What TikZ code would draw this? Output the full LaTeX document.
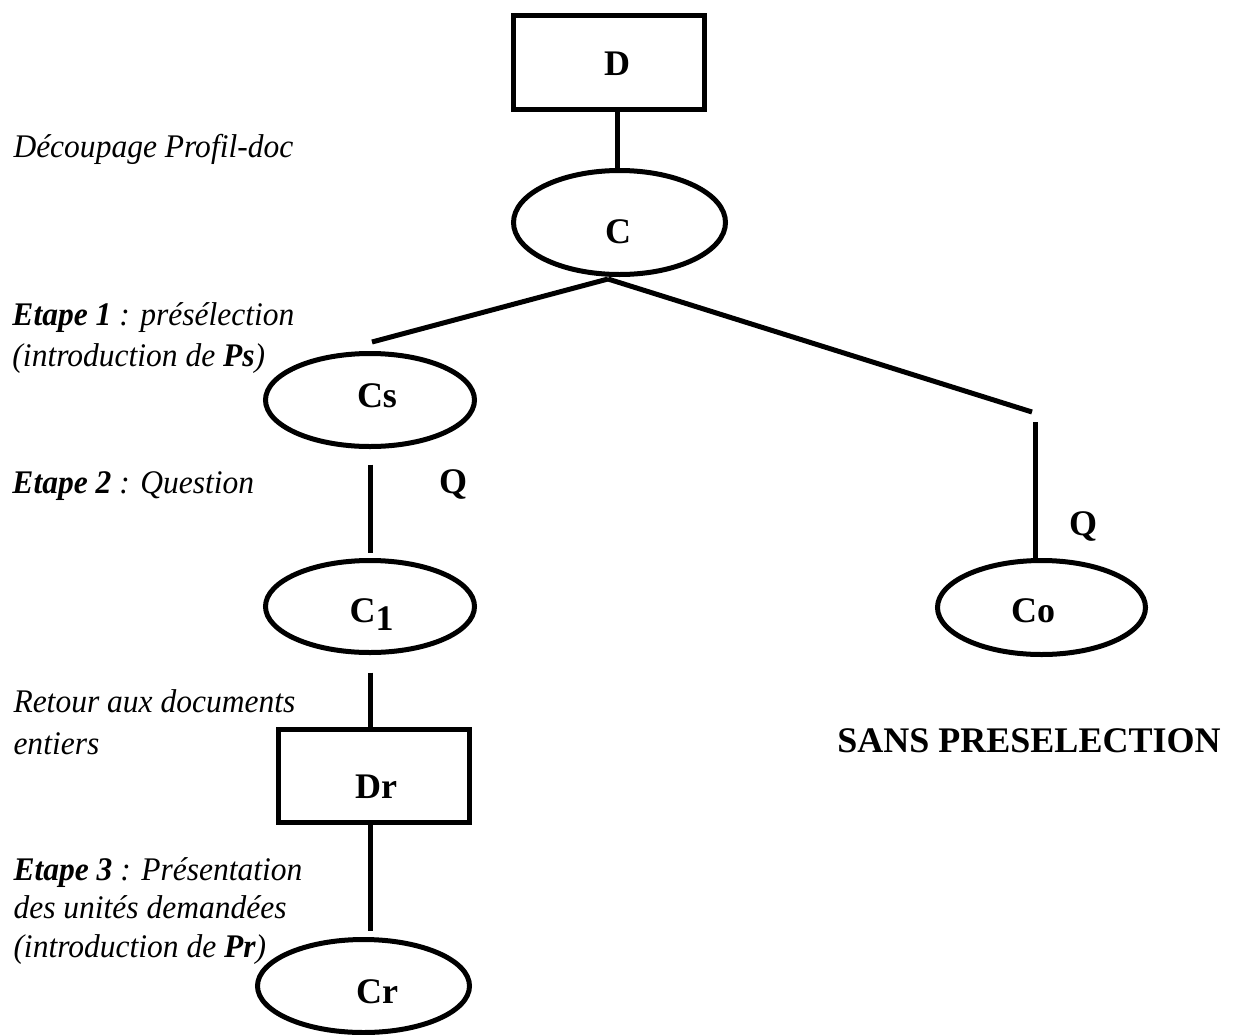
\documentclass[tikz,border=0pt]{standalone}
\usepackage{fontspec}
\setmainfont{Liberation Serif}
\newfontfamily\notefont[FakeStretch=0.955]{Liberation Serif}
\usetikzlibrary{shapes.geometric}
\begin{document}
\begin{tikzpicture}[x=1pt, y=-1pt,
  every path/.style={line width=5pt},
  docbox/.style={draw, rectangle, inner sep=0pt, minimum width=191pt, minimum height=94pt},
  cls/.style={draw, ellipse, inner sep=0pt, minimum width=#1, minimum height=93pt},
  cls/.default=209pt,
  tag/.style={font=\fontsize{36}{42}\selectfont\bfseries, inner sep=0pt, anchor=base},
  note/.style={font=\notefont\fontsize{33}{40}\selectfont\itshape, inner sep=0pt, anchor=base west}]

% page
\fill[white] (0,0) rectangle (1234,1034);
\useasboundingbox (0,0) rectangle (1234,1034);

% boxes and ellipses
\node[docbox] (D) at (609,62) {};
\node[cls={212pt}, minimum height=104pt] (C) at (619.5,222.5) {};
\node[cls] (Cs) at (370,400) {};
\node[cls, minimum height=92pt] (C1) at (370,606.5) {};
\node[docbox, minimum height=93pt] (Dr) at (374,776) {};
\node[cls={212pt}] (Cr) at (363.5,986) {};
\node[cls={208pt}, minimum height=94pt] (Co) at (1041.5,607.5) {};

% labels inside the shapes
\node[tag] (Dlab) at (617,75) {D};
\node[tag] (Clab) at (618,243) {C};
\node[tag] (Cslab) at (377,407) {Cs};
\node[tag, anchor=base west] (C1lab) at (347,622) {C\raisebox{-8pt}{1}};
\node[tag] (Drlab) at (376,798) {Dr};
\node[tag] (Crlab) at (377,1003) {Cr};
\node[tag] (Colab) at (1033,622) {Co};

% question labels and heading
\node[tag] (Qleft) at (453,493) {Q};
\node[tag] (Qright) at (1083,535) {Q};
\node[tag] (sans) at (1029,752) {SANS PRESELECTION};

% connectors
\coordinate (fork) at (608,279);
\coordinate (csIn) at (372,342);
\coordinate (coIn) at (1032,412);
\coordinate (coTop) at (1035,422);
\draw (Dlab |- D.south) -- (Dlab |- C.north);
\draw (fork) -- (csIn);
\draw (fork) -- (coIn);
\draw (coTop) -- (coTop |- Co.north);
\draw[shorten <=15.5pt, shorten >=5.5pt] (Cs.south) -- (C1.north);
\draw[shorten <=17.5pt] (C1.south) -- (C1.south |- Dr.north);
\draw[shorten >=6.5pt] (C1.south |- Dr.south) -- (C1.south |- Cr.north);

% step descriptions
\node[note] (n1) at (11,157) {Découpage Profil-doc};
\node[note] (n2) at (10,325) {\textbf{Etape 1} : présélection};
\node[note] (n3) at (10,366) {(introduction de \textbf{Ps})};
\node[note] (n4) at (10,493) {\textbf{Etape 2} : Question};
\node[note] (n5) at (11,712) {Retour aux documents};
\node[note] (n6) at (11,754) {entiers};
\node[note] (n7) at (11,880) {\textbf{Etape 3} : Présentation};
\node[note] (n8) at (11,918) {des unités demandées};
\node[note] (n9) at (11,957) {(introduction de \textbf{Pr})};
\end{tikzpicture}
\end{document}
